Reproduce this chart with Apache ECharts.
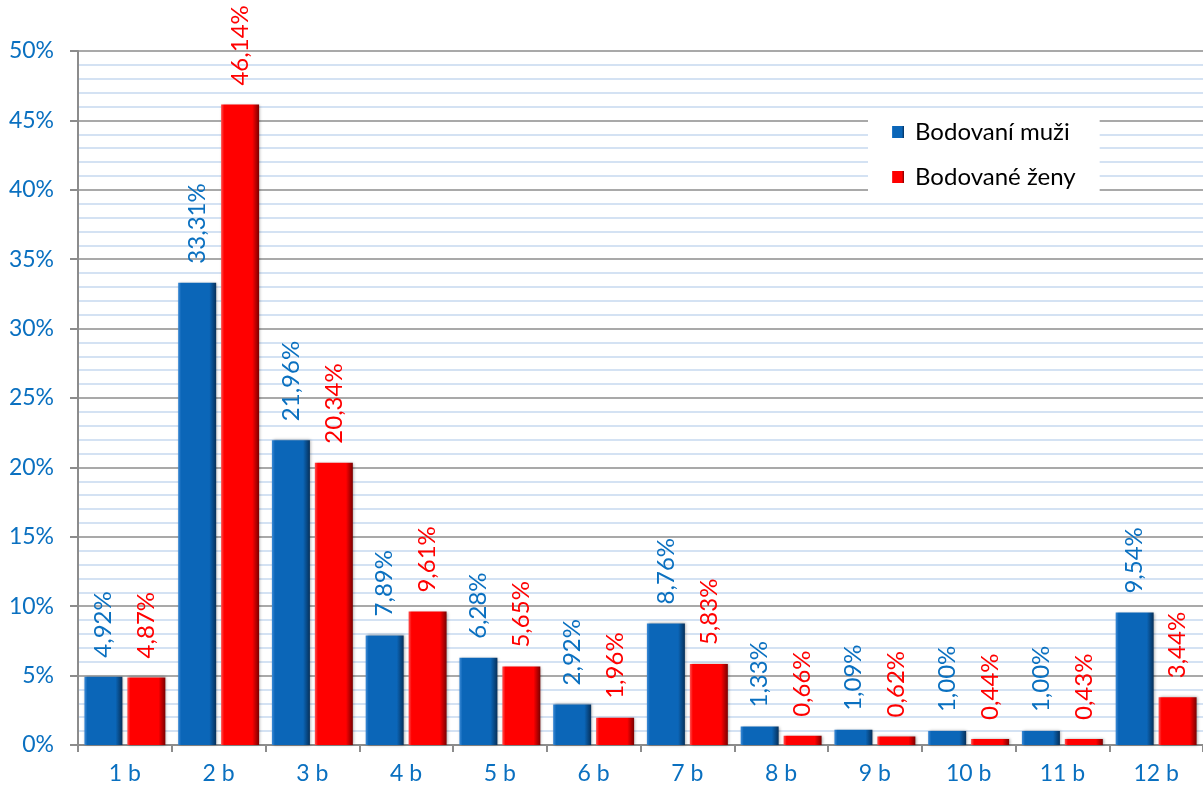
<!DOCTYPE html>
<html>
<head>
<meta charset="utf-8">
<style>
html,body{margin:0;padding:0;background:#fff;}
#c{width:1203px;height:795px;}
</style>
<script src="https://cdn.jsdelivr.net/npm/echarts@6/dist/echarts.min.js"></script>
</head>
<body>
<div id="c"></div>
<script>
const categories = ['1 b','2 b','3 b','4 b','5 b','6 b','7 b','8 b','9 b','10 b','11 b','12 b'];
const menValues = [4.92, 33.31, 21.96, 7.89, 6.28, 2.92, 8.76, 1.33, 1.09, 1.00, 1.00, 9.54];
const womenValues = [4.87, 46.14, 20.34, 9.61, 5.65, 1.96, 5.83, 0.66, 0.62, 0.44, 0.43, 3.44];
const seriesNames = ['Bodovaní muži', 'Bodované ženy'];

const FONT = 'Lato';
const BLUE_TXT = '#0a70c0';
const RED_TXT = '#ff0000';

function bevel(light, base, dark) {
  return new echarts.graphic.LinearGradient(0, 0, 1, 0, [
    {offset: 0, color: light},
    {offset: 0.08, color: base},
    {offset: 0.82, color: base},
    {offset: 1, color: dark}
  ]);
}
function fmt(v) { return v.toFixed(2).replace('.', ',') + '%'; }

const chart = echarts.init(document.getElementById('c'), null, {renderer: 'canvas'});
chart.setOption({
  animation: false,
  backgroundColor: '#ffffff',
  textStyle: {fontFamily: FONT},
  grid: {left: 78, top: 51, bottom: 50, width: 1134, containLabel: false},
  legend: {
    orient: 'vertical',
    left: 868, top: 108,
    padding: [12, 24, 10, 24],
    backgroundColor: '#ffffff',
    itemWidth: 12, itemHeight: 12, itemGap: 21,
    icon: 'rect',
    textStyle: {fontFamily: FONT, fontSize: 24, color: '#000', padding: [0, 0, 0, 6]},
    data: seriesNames
  },
  xAxis: {
    type: 'category',
    data: categories,
    axisLine: {lineStyle: {color: '#8c8c8c', width: 2}},
    axisTick: {show: true, length: 7, lineStyle: {color: '#8c8c8c', width: 2}},
    axisLabel: {color: BLUE_TXT, fontSize: 23, fontFamily: FONT, margin: 17}
  },
  yAxis: {
    type: 'value', min: 0, max: 50, interval: 5,
    axisLine: {show: true, lineStyle: {color: '#8c8c8c', width: 2}},
    axisTick: {show: true, length: 8, lineStyle: {color: '#8c8c8c', width: 2}},
    axisLabel: {color: BLUE_TXT, fontSize: 23, fontFamily: FONT, margin: 24, formatter: '{value}%'},
    splitLine: {lineStyle: {color: '#8c8c8c', width: 1.5}},
    minorTick: {show: false, splitNumber: 5},
    minorSplitLine: {show: true, lineStyle: {color: '#c6d9f0', width: 1.5}}
  },
  series: [
    {
      name: seriesNames[0], type: 'bar', data: menValues,
      barWidth: 38, barGap: '13%',
      itemStyle: {
        color: bevel('#3c8ad6', '#0b66b8', '#06305a'),
        shadowColor: 'rgba(0,0,0,0.35)', shadowBlur: 3, shadowOffsetX: 1, shadowOffsetY: 0
      },
      label: {
        show: true, position: 'top', rotate: 90, align: 'left', verticalAlign: 'middle',
        distance: 15, offset: [4, 0], color: BLUE_TXT, fontSize: 24, fontFamily: FONT,
        formatter: p => fmt(p.value)
      }
    },
    {
      name: seriesNames[1], type: 'bar', data: womenValues,
      barWidth: 38,
      itemStyle: {
        color: bevel('#ff5050', '#ff0000', '#7a0000'),
        shadowColor: 'rgba(0,0,0,0.35)', shadowBlur: 3, shadowOffsetX: 1, shadowOffsetY: 0
      },
      label: {
        show: true, position: 'top', rotate: 90, align: 'left', verticalAlign: 'middle',
        distance: 15, offset: [4, 0], color: RED_TXT, fontSize: 24, fontFamily: FONT,
        formatter: p => fmt(p.value)
      }
    }
  ]
});
</script>
</body>
</html>
